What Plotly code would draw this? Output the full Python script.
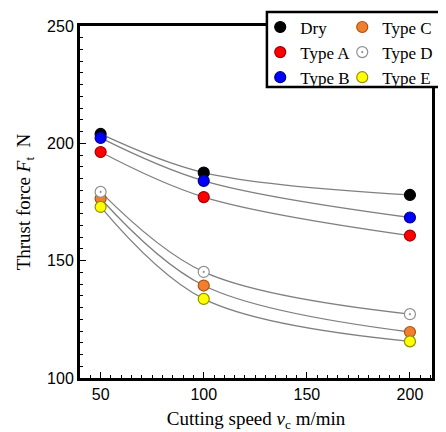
import plotly.graph_objects as go

speeds = [50, 100, 200]
dry = [204.0, 187.5, 178.0]
type_a = [196.3, 177.1, 160.7]
type_b = [202.3, 184.0, 168.4]
type_c = [176.5, 139.4, 119.6]
type_d = [179.3, 145.2, 127.2]
type_e = [172.9, 133.7, 115.6]

series = [
    ("Dry", dry, "black", "black", "circle", "legend"),
    ("Type A", type_a, "#ff0000", "#a00000", "circle", "legend"),
    ("Type B", type_b, "#0000ff", "#000090", "circle", "legend"),
    ("Type C", type_c, "#f08030", "#b05010", "circle", "legend2"),
    ("Type D", type_d, "white", "#909090", "circle-dot", "legend2"),
    ("Type E", type_e, "#ffff00", "#909000", "circle", "legend2"),
]

fig = go.Figure()
for name, vals, col, lcol, sym, leg in series:
    fig.add_trace(go.Scatter(
        x=speeds, y=vals, mode="lines", line=dict(color="#808080", width=1.3, shape="spline"),
        showlegend=False, hoverinfo="skip"))
for name, vals, col, lcol, sym, leg in series:
    fig.add_trace(go.Scatter(
        x=speeds, y=vals, mode="markers", name=name, legend=leg,
        marker=dict(color=col, size=11, symbol=sym, line=dict(color=lcol, width=1.2))))

axis_common = dict(
    showline=True, linecolor="black", linewidth=3, mirror=True,
    ticks="inside", ticklen=6, tickwidth=1, tickcolor="black",
    showgrid=False, zeroline=False, automargin=False,
    tickfont=dict(family="Liberation Sans", size=16, color="black"),
    title_font=dict(family="Liberation Serif", size=19, color="black"),
    minor=dict(ticks="inside", ticklen=3, tickcolor="black", tickwidth=1, dtick=5),
)

fig.update_xaxes(range=[40, 210.7], tickvals=[50, 100, 150, 200],
                 title_text="Cutting speed <i>v</i><sub>c</sub> m/min", title_standoff=12,
                 **axis_common)
fig.update_yaxes(range=[100, 250], tickvals=[100, 150, 200, 250],
                 title_text="Thrust force <i>F</i><sub>t</sub>\u00a0\u00a0N", title_standoff=12,
                 **axis_common)

leg_font = dict(family="Liberation Serif", size=17, color="black")
fig.update_layout(
    width=438, height=424,
    margin=dict(l=72, r=14, t=18, b=54, autoexpand=False),
    plot_bgcolor="white", paper_bgcolor="white",
    legend=dict(x=0.512, xanchor="left", y=1.047, yanchor="top",
                bgcolor="rgba(0,0,0,0)", borderwidth=0, font=leg_font,
                tracegroupgap=0),
    legend2=dict(x=0.745, xanchor="left", y=1.047, yanchor="top",
                 bgcolor="rgba(0,0,0,0)", borderwidth=0, font=leg_font,
                 tracegroupgap=0),
    shapes=[dict(type="rect", xref="paper", yref="paper",
                 x0=0.531, x1=1.05, y0=0.827, y1=1.040,
                 line=dict(color="black", width=2.5), fillcolor="white", layer="above")],
)

fig.write_html("out.html")
